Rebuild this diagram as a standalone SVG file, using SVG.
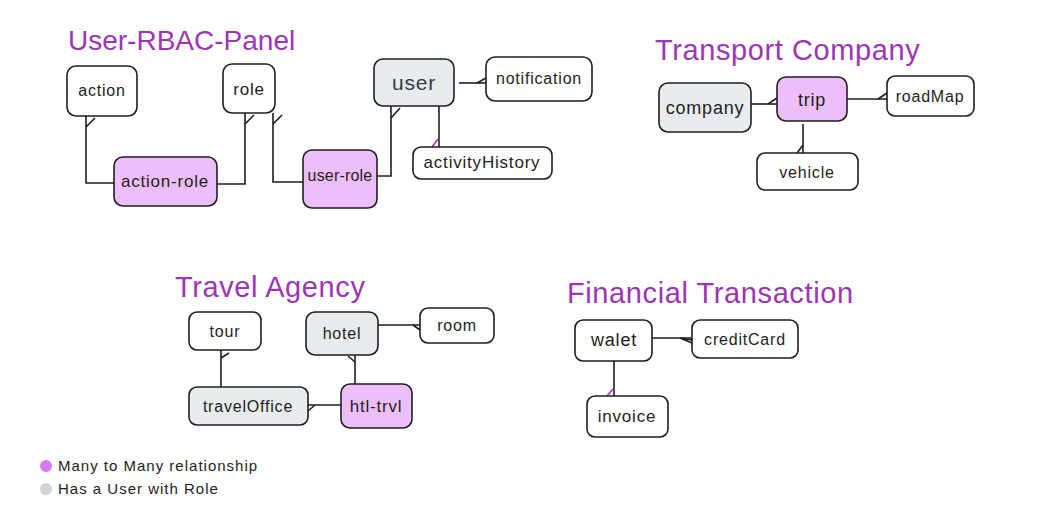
<svg xmlns="http://www.w3.org/2000/svg" width="1043" height="519" viewBox="0 0 1043 519">
<style>
.bg{fill:#ffffff}
.n{fill:#ffffff;stroke:#1e1e1e;stroke-width:1.6}
.g{fill:#e9ecef}
.p{fill:#eebefa}
.t{font-family:"Liberation Sans",Arial,sans-serif;font-size:16px;fill:#1e1e1e;text-anchor:middle;dominant-baseline:central;letter-spacing:0.8px}
.h{font-family:"Liberation Sans",Arial,sans-serif;font-size:29px;fill:#9c36b5;letter-spacing:0.6px}
.c{fill:none;stroke:#1e1e1e;stroke-width:1.6}
.cp{fill:none;stroke:#9c36b5;stroke-width:1.6}
.l{font-family:"Liberation Sans",Arial,sans-serif;font-size:15px;fill:#1e1e1e;letter-spacing:1px}
</style>
<rect class="bg" x="0" y="0" width="1043" height="519"/>

<g id="titles">
<text class="h" x="68" y="50" style="font-size:28px;letter-spacing:0">User-RBAC-Panel</text>
<text class="h" x="655" y="60">Transport Company</text>
<text class="h" x="175" y="297">Travel Agency</text>
<text class="h" x="567" y="303">Financial Transaction</text>
</g>

<g id="connectors">
<path class="c" d="M86 116 V183 H114"/>
<path class="c" d="M86 127 L95 118"/>
<path class="c" d="M217 184 H245 V113"/>
<path class="c" d="M245 124 L254 115"/>
<path class="c" d="M273 113 V182 H303"/>
<path class="c" d="M273 124 L282 115"/>
<path class="c" d="M377 176 H391 V106"/>
<path class="c" d="M391 118 L400 108"/>
<path class="c" d="M459 83 H486"/>
<path class="c" d="M477 83 L486 78"/>
<path class="c" d="M439 106 V147"/>
<path class="cp" d="M432 147 L438 139"/>
<path class="c" d="M751 104 H777"/>
<path class="c" d="M768 104 L777 98"/>
<path class="c" d="M847 99 H887"/>
<path class="c" d="M878 99 L887 93"/>
<path class="c" d="M803 124 V153"/>
<path class="c" d="M797 153 L803 145"/>
<path class="c" d="M378 325 H420"/>
<path class="c" d="M413 325 L420 330"/>
<path class="c" d="M221 350 V387"/>
<path class="c" d="M221 358 L229 353"/>
<path class="c" d="M355 355 V384"/>
<path class="c" d="M355 362 L348 356"/>
<path class="c" d="M308 405 H341"/>
<path class="c" d="M308 411 L315 405"/>
<path class="c" d="M652 338 H692"/>
<path class="c" d="M680 338 L692 343 M680 338 L692 340"/>
<path class="c" d="M614 361 V396"/>
<path class="cp" d="M607 396 L613 389"/>
</g>

<g id="action"><rect class="n" x="67" y="66" width="70" height="50" rx="9"/><text class="t" x="102" y="90">action</text></g>
<g id="role"><rect class="n" x="223" y="64" width="52" height="49" rx="9"/><text class="t" x="249" y="89" style="font-size:17px">role</text></g>
<g id="user"><rect class="n g" x="374" y="59" width="80" height="47" rx="9"/><text class="t" x="414" y="82" style="font-size:21px;fill:#343a40">user</text></g>
<g id="notification"><rect class="n" x="486" y="57" width="106" height="44" rx="9"/><text class="t" x="539" y="78">notification</text></g>
<g id="activityHistory"><rect class="n" x="413" y="147" width="139" height="32" rx="8"/><text class="t" x="482" y="162" style="font-size:17px">activityHistory</text></g>
<g id="action-role"><rect class="n p" x="114" y="157" width="103" height="49" rx="9"/><text class="t" x="165" y="181" style="font-size:17px">action-role</text></g>
<g id="user-role"><rect class="n p" x="303" y="150" width="74" height="58" rx="9"/><text class="t" x="340" y="175" style="letter-spacing:0.2px">user-role</text></g>

<g id="company"><rect class="n g" x="659" y="83" width="92" height="49" rx="9"/><text class="t" x="705" y="108" style="font-size:18px">company</text></g>
<g id="trip"><rect class="n p" x="777" y="77" width="70" height="44" rx="9"/><text class="t" x="812" y="100" style="font-size:18px">trip</text></g>
<g id="roadMap"><rect class="n" x="887" y="76" width="87" height="40" rx="8"/><text class="t" x="930" y="96">roadMap</text></g>
<g id="vehicle"><rect class="n" x="757" y="153" width="101" height="37" rx="8"/><text class="t" x="807" y="172">vehicle</text></g>

<g id="tour"><rect class="n" x="189" y="312" width="72" height="38" rx="8"/><text class="t" x="225" y="331">tour</text></g>
<g id="hotel"><rect class="n g" x="306" y="312" width="72" height="43" rx="9"/><text class="t" x="342" y="333">hotel</text></g>
<g id="room"><rect class="n" x="420" y="308" width="74" height="35" rx="8"/><text class="t" x="457" y="325">room</text></g>
<g id="travelOffice"><rect class="n g" x="189" y="387" width="119" height="38" rx="8"/><text class="t" x="248" y="406">travelOffice</text></g>
<g id="htl-trvl"><rect class="n p" x="341" y="384" width="71" height="44" rx="9"/><text class="t" x="376" y="406" style="font-size:17px">htl-trvl</text></g>

<g id="walet"><rect class="n" x="575" y="320" width="77" height="41" rx="8"/><text class="t" x="614" y="340" style="font-size:18px">walet</text></g>
<g id="creditCard"><rect class="n" x="692" y="320" width="106" height="38" rx="8"/><text class="t" x="745" y="339">creditCard</text></g>
<g id="invoice"><rect class="n" x="587" y="396" width="81" height="41" rx="8"/><text class="t" x="627" y="416" style="font-size:17px">invoice</text></g>

<g id="legend">
<circle cx="46" cy="466" r="6" fill="#da77f2"/>
<text class="l" x="58" y="471">Many to Many relationship</text>
<circle cx="46" cy="489" r="6" fill="#ced4da"/>
<text class="l" x="58" y="494">Has a User with Role</text>
</g>
</svg>
